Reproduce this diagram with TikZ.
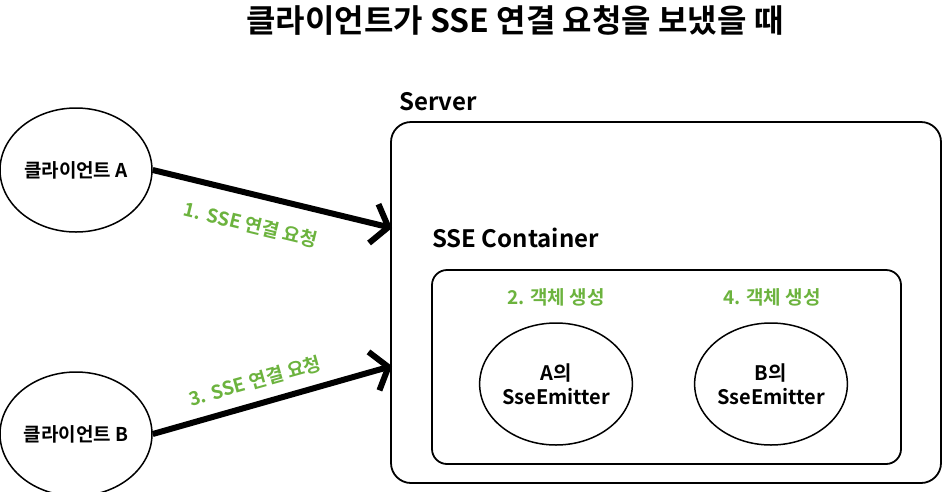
\documentclass[tikz,border=0pt]{standalone}
\usepackage{fontspec}
\setmainfont{Noto Sans CJK KR}[BoldFont={Noto Sans CJK KR Bold}]
\usetikzlibrary{arrows.meta,shapes.geometric}
\definecolor{stepgreen}{RGB}{108,179,62}
\tikzset{
  oval/.style={ellipse, draw=black, line width=1.5pt, minimum width=152pt, minimum height=124pt, inner sep=0pt, font=\bfseries\fontsize{19}{22}\selectfont, align=center},
  emitter/.style={ellipse, draw=black, line width=1.5pt, minimum width=151pt, minimum height=122pt, inner sep=0pt, font=\bfseries\fontsize{20}{24}\selectfont, align=center},
  req/.style={line width=6pt, -{Straight Barb[length=15pt,width=40pt,line width=6pt]}},
  steplabel/.style={text=stepgreen, font=\bfseries\fontsize{19}{22}\selectfont, inner sep=0pt},
  box/.style={draw=black, line width=1.8pt, rounded corners=20pt}
}
\begin{document}
\begin{tikzpicture}[x=1pt,y=-1pt]
\useasboundingbox (0,0) rectangle (945,491);
\node[font=\bfseries\fontsize{32}{36}\selectfont] (title) at (515,20) {클라이언트가 SSE 연결 요청을 보냈을 때};
\node[oval] (ca) at (76,170) {클라이언트 A};
\node[oval] (cb) at (76,434) {클라이언트 B};
\draw[box] (391,122) rectangle (941,483);
\node[anchor=west, font=\bfseries\fontsize{24}{28}\selectfont, inner sep=0pt] (server) at (399,102) {Server};
\coordinate (ina) at (392,228);
\coordinate (inb) at (392,366);
\draw[req] (ca.east) -- (ina);
\draw[req] (cb.east) -- (inb);
\node[steplabel, rotate=-13.6] (l1) at (251,225) {1. SSE 연결 요청};
\node[steplabel, rotate=15.6] (l3) at (255,381) {3. SSE 연결 요청};
\node[anchor=west, font=\bfseries\fontsize{24}{28}\selectfont, inner sep=0pt] (cont) at (432,238) {SSE Container};
\draw[box, rounded corners=15pt] (432,270) rectangle (901,464);
\node[steplabel] (l2) at (556,297) {2. 객체 생성};
\node[steplabel] (l4) at (772,297) {4. 객체 생성};
\node[emitter] (ea) at (556,384) {A의\\SseEmitter};
\node[emitter] (eb) at (771,384) {B의\\SseEmitter};
\end{tikzpicture}
\end{document}
